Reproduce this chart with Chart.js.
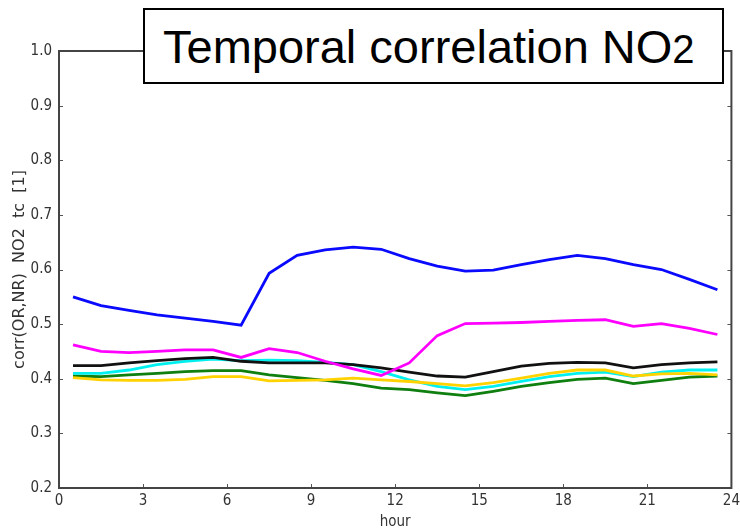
<!DOCTYPE html>
<html>
<head>
<meta charset="utf-8">
<script src="https://cdn.jsdelivr.net/npm/chart.js@4"></script>
<style>
  html, body { margin: 0; padding: 0; background: #fff; overflow: hidden; }
  #wrap { position: relative; width: 744px; height: 531px; }
  #titleBox {
    position: absolute; left: 143px; top: 8px; width: 577px; height: 72px;
    border: 2px solid #000; background: #fff;
    font-family: 'Liberation Sans', Arial, sans-serif; color: #000;
  }
  #titleBox .txt { position: absolute; left: 18px; top: 13px; font-size: 47px; line-height: 47px; white-space: nowrap; }
  #titleBox .sub { font-size: 40px; }
</style>
</head>
<body>
<div id="wrap">
  <canvas id="tempCorr" width="744" height="531"></canvas>
  <div id="titleBox"><span class="txt">Temporal correlation NO<span class="sub">2</span></span></div>
</div>
<script>
// hour of day (mid-hour)
const hours = [0.5, 1.5, 2.5, 3.5, 4.5, 5.5, 6.5, 7.5, 8.5, 9.5, 10.5, 11.5,
               12.5, 13.5, 14.5, 15.5, 16.5, 17.5, 18.5, 19.5, 20.5, 21.5, 22.5, 23.5];

const blueSeries = [0.550, 0.534, 0.525, 0.517, 0.511, 0.505, 0.498, 0.593, 0.626, 0.636, 0.641, 0.637,
                    0.620, 0.606, 0.597, 0.599, 0.609, 0.618, 0.626, 0.620, 0.609, 0.600, 0.582, 0.563];
const magentaSeries = [0.462, 0.450, 0.448, 0.450, 0.453, 0.453, 0.439, 0.455, 0.448, 0.432, 0.418, 0.406,
                       0.429, 0.479, 0.501, 0.502, 0.503, 0.505, 0.507, 0.508, 0.496, 0.501, 0.492, 0.481];
const blackSeries = [0.424, 0.424, 0.429, 0.433, 0.437, 0.439, 0.432, 0.429, 0.429, 0.429, 0.426, 0.420,
                     0.412, 0.405, 0.403, 0.413, 0.423, 0.428, 0.430, 0.429, 0.420, 0.426, 0.429, 0.431];
const cyanSeries = [0.410, 0.410, 0.416, 0.426, 0.432, 0.436, 0.433, 0.434, 0.433, 0.430, 0.426, 0.413,
                    0.398, 0.386, 0.380, 0.386, 0.395, 0.404, 0.410, 0.412, 0.404, 0.412, 0.416, 0.416];
const greenSeries = [0.405, 0.404, 0.407, 0.410, 0.413, 0.415, 0.415, 0.407, 0.402, 0.397, 0.391, 0.383,
                     0.380, 0.374, 0.369, 0.377, 0.386, 0.393, 0.399, 0.401, 0.391, 0.397, 0.403, 0.405];
const yellowSeries = [0.402, 0.398, 0.397, 0.397, 0.399, 0.404, 0.404, 0.396, 0.397, 0.398, 0.401, 0.398,
                      0.395, 0.391, 0.387, 0.393, 0.401, 0.410, 0.416, 0.416, 0.405, 0.409, 0.410, 0.407];

const xTicks = [0, 3, 6, 9, 12, 15, 18, 21, 24];
const yTicks = [0.2, 0.3, 0.4, 0.5, 0.6, 0.7, 0.8, 0.9, 1.0];

const toPoints = vals => vals.map((v, i) => ({ x: hours[i], y: v }));

const line = (vals, color) => ({
    data: toPoints(vals),
    borderColor: color,
    borderWidth: 2.8,
    pointRadius: 0,
    tension: 0,
    fill: false
});

// matplotlib style box: full frame + small ticks pointing inward
const frameTicks = {
    id: 'frameTicks',
    afterDraw(chart) {
        const { ctx, chartArea: a, scales } = chart;
        ctx.save();
        ctx.strokeStyle = '#555';
        ctx.lineWidth = 1;
        xTicks.forEach(t => {
            const px = Math.round(scales.x.getPixelForValue(t)) + 0.5;
            ctx.beginPath();
            ctx.moveTo(px, a.bottom); ctx.lineTo(px, a.bottom - 4);
            ctx.moveTo(px, a.top); ctx.lineTo(px, a.top + 4);
            ctx.stroke();
        });
        yTicks.forEach(t => {
            const py = Math.round(scales.y.getPixelForValue(t)) + 0.5;
            ctx.beginPath();
            ctx.moveTo(a.left, py); ctx.lineTo(a.left + 4, py);
            ctx.moveTo(a.right, py); ctx.lineTo(a.right - 4, py);
            ctx.stroke();
        });
        ctx.lineWidth = 2;
        ctx.strokeStyle = '#444';
        ctx.strokeRect(a.left, a.top, a.right - a.left, a.bottom - a.top);
        ctx.restore();
    }
};

const tickFont = { family: "'DejaVu Sans Condensed', 'DejaVu Sans', sans-serif", size: 15 };

new Chart(document.getElementById('tempCorr').getContext('2d'), {
    type: 'line',
    data: {
        datasets: [
            line(blueSeries, '#0a0aff'),
            line(magentaSeries, '#ff00ff'),
            line(blackSeries, '#111111'),
            line(yellowSeries, '#ffd200'),
            line(cyanSeries, '#00f0f0'),
            line(greenSeries, '#0f7f0f')
        ]
    },
    options: {
        responsive: false,
        animation: false,
        layout: { padding: { top: 51, left: 0, right: 0, bottom: 0 } },
        plugins: { legend: { display: false }, tooltip: { enabled: false } },
        scales: {
            x: {
                type: 'linear',
                min: 0, max: 24,
                afterBuildTicks: s => { s.ticks = xTicks.map(v => ({ value: v })); },
                afterFit: s => { s.height = 43; },
                grid: { display: false, drawTicks: false },
                border: { display: false },
                ticks: { color: '#333', font: tickFont, padding: 4, maxRotation: 0 },
                title: {
                    display: true, text: 'hour', color: '#333',
                    font: { family: "'DejaVu Sans Condensed', 'DejaVu Sans', sans-serif", size: 15 },
                    padding: { top: 0, bottom: 0 }
                }
            },
            y: {
                min: 0.2, max: 1.0,
                afterBuildTicks: s => { s.ticks = yTicks.map(v => ({ value: v })); },
                afterFit: s => { s.width = 59; },
                grid: { display: false, drawTicks: false },
                border: { display: false },
                ticks: { color: '#333', font: tickFont, padding: 7, callback: v => v.toFixed(1) },
                title: {
                    display: true, text: 'corr(OR,NR)  NO2  tc  [1]', color: '#333',
                    font: { family: "'DejaVu Sans', sans-serif", size: 16 },
                    padding: { top: 10, bottom: 0 }
                }
            }
        }
    },
    plugins: [frameTicks]
});
</script>
</body>
</html>
